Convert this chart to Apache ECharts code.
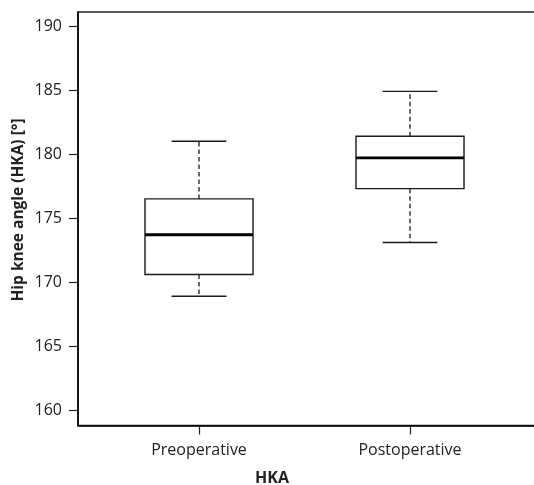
<!DOCTYPE html>
<html>
<head>
<meta charset="utf-8">
<script src="https://cdn.jsdelivr.net/npm/echarts@6/dist/echarts.min.js"></script>
<style>
html,body{margin:0;padding:0;background:#fff;overflow:hidden;}
#chart{width:534px;height:485px;}
</style>
</head>
<body>
<div id="chart"></div>
<script>
// Data
var categories = ['Preoperative', 'Postoperative'];
var positions = [1, 2];
var minValues = [168.9, 173.1];
var q1Values = [170.6, 177.3];
var medianValues = [173.7, 179.7];
var q3Values = [176.5, 181.4];
var maxValues = [181.0, 184.9];
var yTicks = [160, 165, 170, 175, 180, 185, 190];

var boxData = positions.map(function (p, i) {
  return [p, minValues[i], q1Values[i], medianValues[i], q3Values[i], maxValues[i]];
});

var FONT = 'Open Sans';
var TXT = '#222';

var chart = echarts.init(document.getElementById('chart'));

function renderItem(params, api) {
  var x = api.value(0);
  var vMin = api.value(1), vQ1 = api.value(2), vMed = api.value(3), vQ3 = api.value(4), vMax = api.value(5);
  var band = api.size([1, 0])[0];
  var boxHalf = band * 0.256;
  var capHalf = band * 0.13;
  var pMin = api.coord([x, vMin]);
  var pQ1 = api.coord([x, vQ1]);
  var pMed = api.coord([x, vMed]);
  var pQ3 = api.coord([x, vQ3]);
  var pMax = api.coord([x, vMax]);
  var cx = pMed[0];
  var lineCol = '#1a1a1a';
  var dashStyle = { stroke: lineCol, lineWidth: 1.3, lineDash: [4.5, 3], fill: null };
  var solid = { stroke: lineCol, lineWidth: 1.4, fill: null };
  return {
    type: 'group',
    children: [
      { type: 'line', shape: { x1: cx, y1: pQ3[1], x2: cx, y2: pMax[1] }, style: dashStyle },
      { type: 'line', shape: { x1: cx, y1: pQ1[1], x2: cx, y2: pMin[1] }, style: dashStyle },
      { type: 'line', shape: { x1: cx - capHalf, y1: pMax[1], x2: cx + capHalf, y2: pMax[1] }, style: solid },
      { type: 'line', shape: { x1: cx - capHalf, y1: pMin[1], x2: cx + capHalf, y2: pMin[1] }, style: solid },
      { type: 'rect', shape: { x: cx - boxHalf, y: pQ3[1], width: boxHalf * 2, height: pQ1[1] - pQ3[1] }, style: { stroke: lineCol, lineWidth: 1.4, fill: '#fff' } },
      { type: 'line', shape: { x1: cx - boxHalf, y1: pMed[1], x2: cx + boxHalf, y2: pMed[1] }, style: { stroke: '#000', lineWidth: 2.8 } }
    ]
  };
}

var X_MIN = 0.4265, X_MAX = 2.6019;

var option = {
  animation: false,
  backgroundColor: '#fff',
  grid: { left: 78, top: 12, right: -3, bottom: 59.5, containLabel: false, outerBoundsMode: 'none',
          show: true, borderColor: '#222', borderWidth: 1.4, backgroundColor: 'transparent' },
  xAxis: {
    type: 'value',
    min: X_MIN,
    max: X_MAX,
    position: 'bottom',
    splitLine: { show: false },
    axisLine: { show: true, onZero: false, lineStyle: { color: '#000', width: 1.6 } },
    axisTick: { show: true, customValues: positions, length: 9, inside: false, lineStyle: { color: '#222', width: 1.2 } },
    axisLabel: {
      customValues: positions,
      margin: 17,
      color: TXT, fontFamily: FONT, fontSize: 16,
      formatter: function (v) { var i = positions.indexOf(Math.round(v)); return i >= 0 ? categories[i] : ''; }
    }
  },
  yAxis: {
    type: 'value',
    min: 158.8,
    max: 191.1,
    splitLine: { show: false },
    axisLine: { show: true, onZero: false, lineStyle: { color: '#000', width: 1.6 } },
    axisTick: { show: true, customValues: yTicks, length: 9, lineStyle: { color: '#222', width: 1.2 } },
    axisLabel: { customValues: yTicks, margin: 16, color: TXT, fontFamily: FONT, fontSize: 16 }
  },
  graphic: [
    {
      type: 'text',
      x: 19, y: 210,
      rotation: Math.PI / 2,
      style: { text: 'Hip knee angle (HKA) [°]', fill: TXT, font: 'bold 15.5px "' + FONT + '"', align: 'center', verticalAlign: 'middle' }
    },
    {
      type: 'text',
      x: 272, y: 478,
      style: { text: 'HKA', fill: TXT, font: 'bold 16px "' + FONT + '"', align: 'center', verticalAlign: 'middle' }
    }
  ],
  series: [{
    type: 'custom',
    xAxisIndex: 0,
    yAxisIndex: 0,
    renderItem: renderItem,
    encode: { x: 0, y: [1, 2, 3, 4, 5] },
    data: boxData
  }]
};
chart.setOption(option);
</script>
</body>
</html>
